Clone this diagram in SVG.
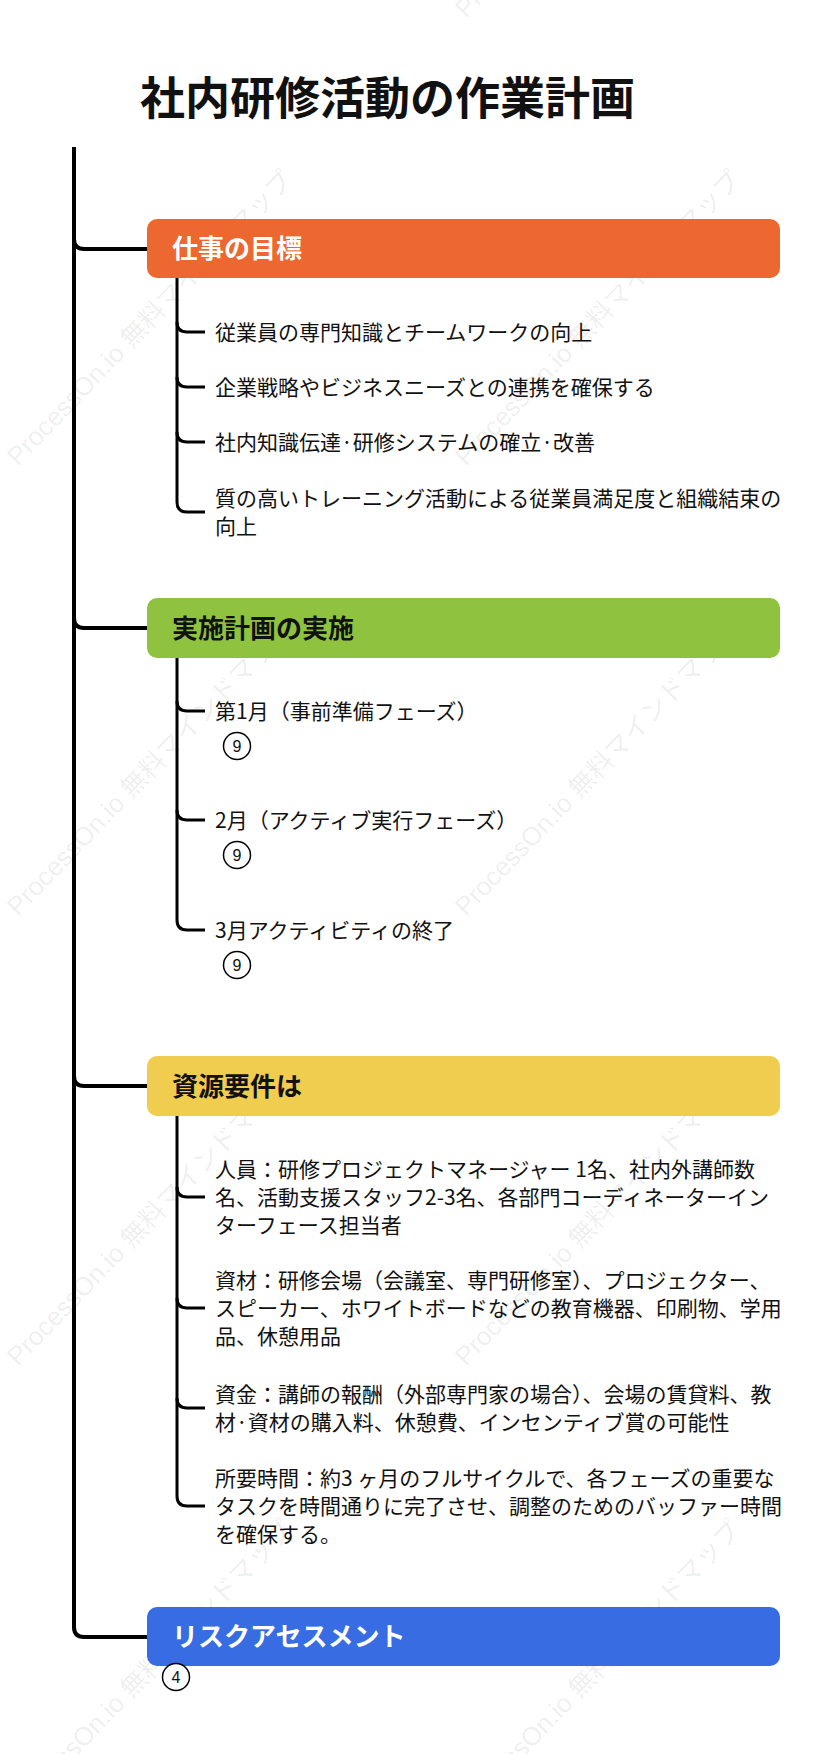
<svg xmlns="http://www.w3.org/2000/svg" width="837" height="1754" viewBox="0 0 837 1754">
<style>
.wm{font-family:"Liberation Sans","Noto Sans CJK JP",sans-serif;font-size:26px;fill:#000;fill-opacity:0.075}
.title{font-family:"Noto Sans CJK JP",sans-serif;font-size:45px;font-weight:bold;fill:#111}
.head{font-family:"Noto Sans CJK JP",sans-serif;font-size:26px;font-weight:bold}
.txt{font-family:"Noto Sans CJK JP",sans-serif;font-size:21px;fill:#111}
.num{font-family:"Liberation Sans",sans-serif;font-size:16px;fill:#111;text-anchor:middle}
.main{fill:none;stroke:#000;stroke-width:4}
.sub{fill:none;stroke:#000;stroke-width:3}
.badge{fill:#fff;stroke:#000;stroke-width:1.5}
</style>
<rect width="837" height="1754" fill="#fff"/>
<g id="watermark">
<text class="wm" transform="translate(466,19) rotate(-46)">ProcessOn.io 無料マインドマップ</text>
<text class="wm" transform="translate(18,467) rotate(-46)">ProcessOn.io 無料マインドマップ</text>
<text class="wm" transform="translate(466,467) rotate(-46)">ProcessOn.io 無料マインドマップ</text>
<text class="wm" transform="translate(18,917) rotate(-46)">ProcessOn.io 無料マインドマップ</text>
<text class="wm" transform="translate(466,917) rotate(-46)">ProcessOn.io 無料マインドマップ</text>
<text class="wm" transform="translate(18,1367) rotate(-46)">ProcessOn.io 無料マインドマップ</text>
<text class="wm" transform="translate(466,1367) rotate(-46)">ProcessOn.io 無料マインドマップ</text>
<text class="wm" transform="translate(18,1817) rotate(-46)">ProcessOn.io 無料マインドマップ</text>
<text class="wm" transform="translate(466,1817) rotate(-46)">ProcessOn.io 無料マインドマップ</text>
</g>
<g id="root"><text class="title" x="140" y="115">社内研修活動の作業計画</text></g>
<g id="connectors">
<path class="main" d="M74,147 V1627 Q74,1637 84,1637 H149"/>
<path class="main" d="M74,239 Q74,249 84,249 H149"/>
<path class="main" d="M74,618 Q74,628 84,628 H149"/>
<path class="main" d="M74,1076 Q74,1086 84,1086 H149"/>
<path class="sub" d="M177,276 V502 Q177,512 187,512 H205"/>
<path class="sub" d="M177,322 Q177,332 187,332 H205"/>
<path class="sub" d="M177,377 Q177,387 187,387 H205"/>
<path class="sub" d="M177,432 Q177,442 187,442 H205"/>
<path class="sub" d="M177,656 V920 Q177,930 187,930 H205"/>
<path class="sub" d="M177,701 Q177,711 187,711 H205"/>
<path class="sub" d="M177,810 Q177,820 187,820 H205"/>
<path class="sub" d="M177,1114 V1496 Q177,1506 187,1506 H205"/>
<path class="sub" d="M177,1187 Q177,1197 187,1197 H205"/>
<path class="sub" d="M177,1298 Q177,1308 187,1308 H205"/>
<path class="sub" d="M177,1398 Q177,1408 187,1408 H205"/>
</g>
<g id="n1">
<rect x="147" y="219" width="633" height="59" rx="10" fill="#EC6830"/>
<text class="head" x="172" y="258" fill="#fff">仕事の目標</text>
</g>
<g id="n1-1"><text class="txt" x="215" y="340">従業員の専門知識とチームワークの向上</text></g>
<g id="n1-2"><text class="txt" x="215" y="395">企業戦略やビジネスニーズとの連携を確保する</text></g>
<g id="n1-3"><text class="txt" x="215" y="450">社内知識伝達·研修システムの確立·改善</text></g>
<g id="n1-4"><text class="txt" x="215" y="506">質の高いトレーニング活動による従業員満足度と組織結束の</text><text class="txt" x="215" y="534">向上</text></g>
<g id="n2">
<rect x="147" y="598" width="633" height="60" rx="10" fill="#8FC33F"/>
<text class="head" x="172" y="638" fill="#111">実施計画の実施</text>
</g>
<g id="n2-1"><text class="txt" x="215" y="719">第1月（事前準備フェーズ）</text><circle class="badge" cx="237" cy="746" r="13.5"/><text class="num" x="237" y="751.8">9</text></g>
<g id="n2-2"><text class="txt" x="215" y="828">2月（アクティブ実行フェーズ）</text><circle class="badge" cx="237" cy="855" r="13.5"/><text class="num" x="237" y="860.8">9</text></g>
<g id="n2-3"><text class="txt" x="215" y="938">3月アクティビティの終了</text><circle class="badge" cx="237" cy="965" r="13.5"/><text class="num" x="237" y="970.8">9</text></g>
<g id="n3">
<rect x="147" y="1056" width="633" height="60" rx="10" fill="#F0CD4E"/>
<text class="head" x="172" y="1096" fill="#111">資源要件は</text>
</g>
<g id="n3-1"><text class="txt" x="215" y="1177">人員：研修プロジェクトマネージャー 1名、社内外講師数</text><text class="txt" x="215" y="1205">名、活動支援スタッフ2-3名、各部門コーディネーターイン</text><text class="txt" x="215" y="1233">ターフェース担当者</text></g>
<g id="n3-2"><text class="txt" x="215" y="1288">資材：研修会場（会議室、専門研修室）、プロジェクター、</text><text class="txt" x="215" y="1316">スピーカー、ホワイトボードなどの教育機器、印刷物、学用</text><text class="txt" x="215" y="1344">品、休憩用品</text></g>
<g id="n3-3"><text class="txt" x="215" y="1402">資金：講師の報酬（外部専門家の場合）、会場の賃貸料、教</text><text class="txt" x="215" y="1430">材·資材の購入料、休憩費、インセンティブ賞の可能性</text></g>
<g id="n3-4"><text class="txt" x="215" y="1486">所要時間：約3 ヶ月のフルサイクルで、各フェーズの重要な</text><text class="txt" x="215" y="1514">タスクを時間通りに完了させ、調整のためのバッファー時間</text><text class="txt" x="215" y="1542">を確保する。</text></g>
<g id="n4">
<rect x="147" y="1607" width="633" height="59" rx="10" fill="#386CE3"/>
<text class="head" x="172" y="1646" fill="#fff">リスクアセスメント</text>
<circle class="badge" cx="176" cy="1677" r="13.5"/><text class="num" x="176" y="1682.8">4</text>
</g>
</svg>
